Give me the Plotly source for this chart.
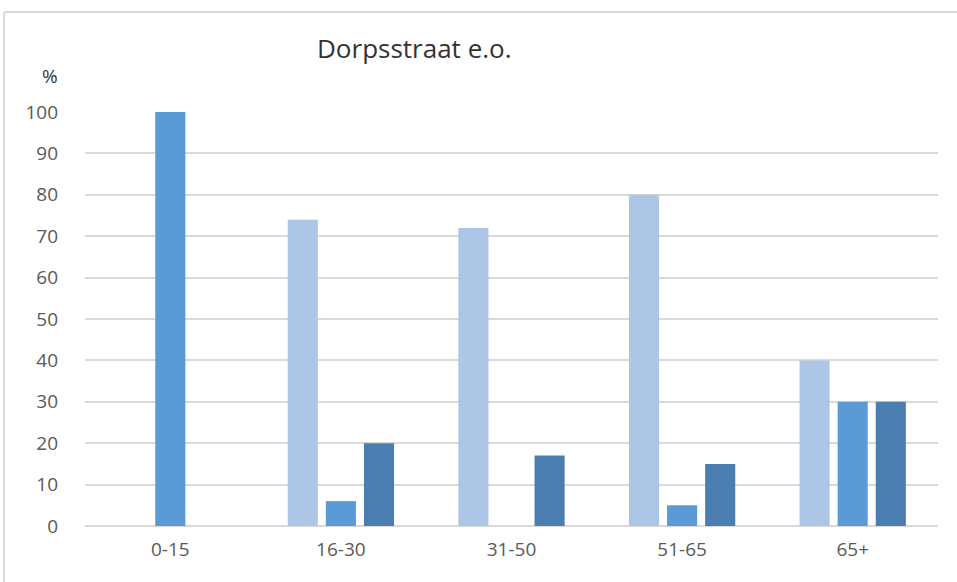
import plotly.graph_objects as go

categories = ["0-15", "16-30", "31-50", "51-65", "65+"]
series_a = [0, 74, 72, 80, 40]
series_b = [100, 6, 0, 5, 30]
series_c = [0, 20, 17, 15, 30]
series_names = ["Reeks 1", "Reeks 2", "Reeks 3"]
colors = ["#ADC6E6", "#5B9BD5", "#4A7EB0"]
y_ticks = [0, 10, 20, 30, 40, 50, 60, 70, 80, 90, 100]

W, H = 957, 582
L, R, T, B = 85, 19, 112, 56
pw, ph = W - L - R, H - T - B

def px(x):
    return (x - L) / pw

def py(y):
    return (H - B - y) / ph

fig = go.Figure()
for name, vals, col in zip(series_names, [series_a, series_b, series_c], colors):
    fig.add_trace(go.Bar(x=categories, y=vals, name=name, marker_color=col,
                         marker_line_width=0))

font_fam = "Open Sans, Liberation Sans, sans-serif"
fig.update_layout(
    width=W, height=H,
    margin=dict(l=L, r=R, t=T, b=B),
    paper_bgcolor="white", plot_bgcolor="white",
    barmode="group", bargap=0.33, bargroupgap=0.21,
    showlegend=False,
    font=dict(family=font_fam, color="#595959", size=19),
    xaxis=dict(showgrid=False, showline=False, ticks="", tickfont=dict(size=19),
               ticklabelstandoff=10),
    yaxis=dict(range=[0, 100], tickvals=y_ticks, showgrid=True, gridcolor="#D9D9D9",
               gridwidth=1.5, zeroline=True, zerolinecolor="#D9D9D9", zerolinewidth=1.5,
               ticks="", ticklabelstandoff=26, tickfont=dict(size=19)),
    annotations=[
        dict(text="Dorpsstraat e.o.", x=px(414), y=py(48), xref="paper", yref="paper",
             showarrow=False, xanchor="center", yanchor="middle",
             font=dict(size=26, color="#333333", family=font_fam)),
        dict(text="%", x=px(50), y=py(76), xref="paper", yref="paper",
             showarrow=False, xanchor="center", yanchor="middle",
             font=dict(size=19, color="#333333", family=font_fam)),
    ],
    shapes=[
        dict(type="line", xref="paper", yref="paper", x0=px(4), x1=px(960),
             y0=py(12), y1=py(12), line=dict(color="#D9D9D9", width=2)),
        dict(type="line", xref="paper", yref="paper", x0=px(4), x1=px(4),
             y0=py(12), y1=py(590), line=dict(color="#D9D9D9", width=2)),
    ],
)

fig.write_html("out.html", config={"displayModeBar": False},
               post_script="document.body.style.margin='0';document.body.style.overflow='hidden';")
